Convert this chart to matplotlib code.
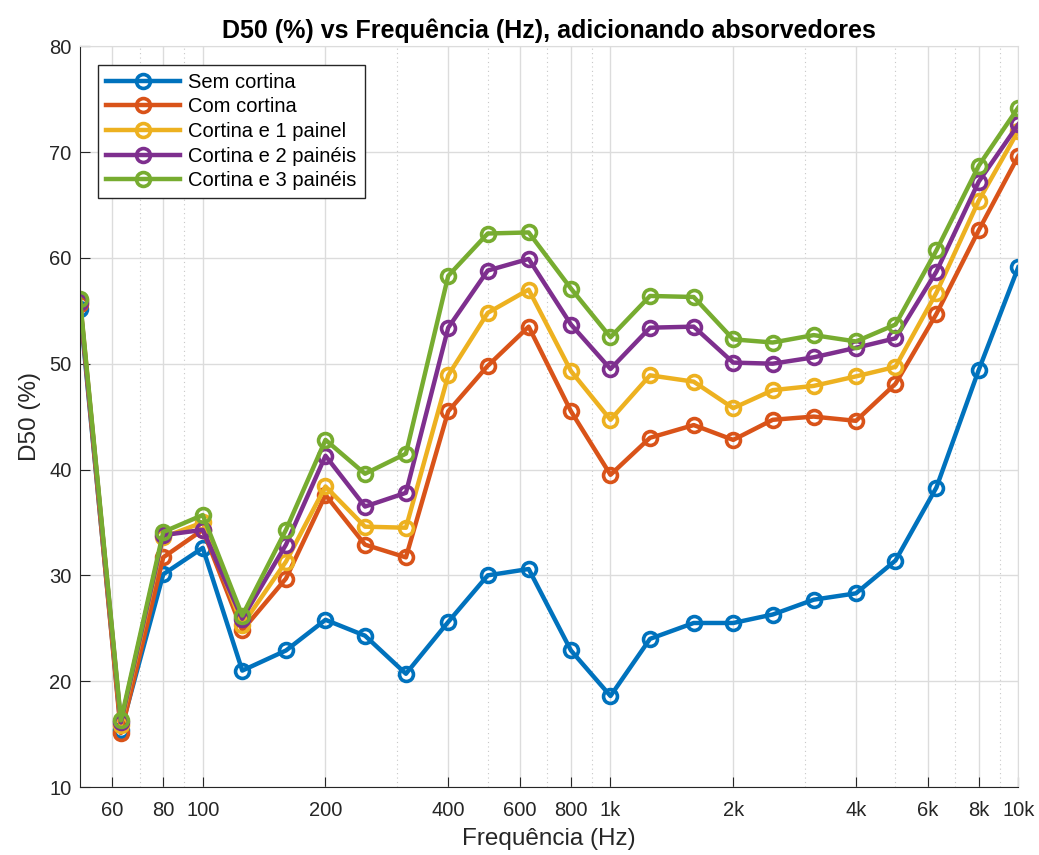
import matplotlib
matplotlib.use('Agg')
import matplotlib.pyplot as plt
from matplotlib.ticker import FixedLocator, FixedFormatter, NullFormatter

plt.rcParams['font.family'] = ['Liberation Sans', 'DejaVu Sans']

freq = [50, 63, 80, 100, 125, 160, 200, 250, 315, 400, 500, 630, 800,
        1000, 1250, 1600, 2000, 2500, 3150, 4000, 5000, 6300, 8000, 10000]

sem_cortina = [55.2, 15.4, 30.1, 32.6, 21.0, 22.9, 25.8, 24.3, 20.7, 25.6, 30.0, 30.6,
               22.9, 18.6, 24.0, 25.5, 25.5, 26.3, 27.7, 28.3, 31.4, 38.3, 49.4, 59.1]
com_cortina = [55.6, 15.1, 31.7, 34.3, 24.8, 29.7, 37.6, 32.9, 31.7, 45.5, 49.8, 53.5,
               45.5, 39.5, 43.0, 44.2, 42.8, 44.7, 45.0, 44.6, 48.1, 54.7, 62.6, 69.6]
cortina_1 = [56.0, 15.9, 33.6, 35.0, 25.3, 31.3, 38.4, 34.6, 34.5, 48.9, 54.8, 57.0,
             49.3, 44.7, 48.9, 48.3, 45.8, 47.5, 47.9, 48.8, 49.7, 56.7, 65.4, 72.0]
cortina_2 = [55.8, 16.1, 33.8, 34.3, 25.9, 32.9, 41.3, 36.5, 37.8, 53.4, 58.8, 59.9,
             53.7, 49.5, 53.4, 53.5, 50.1, 50.0, 50.6, 51.5, 52.4, 58.7, 67.2, 72.6]
cortina_3 = [56.1, 16.3, 34.1, 35.7, 26.2, 34.3, 42.8, 39.6, 41.5, 58.3, 62.3, 62.4,
             57.1, 52.5, 56.4, 56.3, 52.3, 52.0, 52.7, 52.1, 53.7, 60.7, 68.7, 74.2]

series = [sem_cortina, com_cortina, cortina_1, cortina_2, cortina_3]
nomes = ["Sem cortina", "Com cortina", "Cortina e 1 painel",
         "Cortina e 2 painéis", "Cortina e 3 painéis"]
cores = ['#0072BD', '#D95319', '#EDB120', '#7E2F8E', '#77AC30']

major_ticks = [60, 80, 100, 200, 400, 600, 800, 1000, 2000, 4000, 6000, 8000, 10000]
major_labels = ['60', '80', '100', '200', '400', '600', '800', '1k', '2k', '4k', '6k', '8k', '10k']
minor_ticks = [70, 90, 300, 500, 700, 900, 3000, 5000, 7000, 9000]

fig = plt.figure(figsize=(10.39, 8.55), dpi=100)
ax = fig.add_axes([0.077, 0.0795, 0.903, 0.8665])

for y, nome, cor in zip(series, nomes, cores):
    ax.plot(freq, y, '-o', color=cor, lw=3.2, ms=10, mfc='none', mew=2.6, label=nome)

ax.set_xscale('log')
ax.set_xlim(50, 10000)
ax.set_ylim(10, 80)
ax.xaxis.set_major_locator(FixedLocator(major_ticks))
ax.xaxis.set_major_formatter(FixedFormatter(major_labels))
ax.xaxis.set_minor_locator(FixedLocator(minor_ticks))
ax.xaxis.set_minor_formatter(NullFormatter())
ax.set_yticks(range(10, 81, 10))

ax.grid(True, which='major', color='#dcdcdc', lw=1.0)
ax.grid(True, which='minor', axis='x', color='#c8c8c8', lw=0.8, ls=(0, (1, 3)))
ax.set_axisbelow(True)

ax.tick_params(axis='both', which='both', direction='in', labelsize=14.5, colors='#262626')
ax.tick_params(axis='x', which='major', length=7.5, pad=10)
ax.tick_params(axis='x', which='minor', length=0)
ax.tick_params(axis='y', length=7.5, pad=6)
for s in ['left', 'bottom']:
    ax.spines[s].set_color('#262626')
for s in ['top', 'right']:
    ax.spines[s].set_color('#dcdcdc')

ax.set_title("D50 (%) vs Frequência (Hz), adicionando absorvedores",
             fontsize=18, fontweight='bold', pad=6)
ax.set_xlabel("Frequência (Hz)", fontsize=17.5, color='#262626', labelpad=6)
ax.set_ylabel("D50 (%)", fontsize=17.5, color='#262626', labelpad=6)

leg = ax.legend(loc='upper left', bbox_to_anchor=(0.019, 0.975), fontsize=14.5,
                handlelength=3.7, fancybox=False, framealpha=1, edgecolor='#262626',
                borderpad=0.4, labelspacing=0.28, handletextpad=0.4, borderaxespad=0)
leg.get_frame().set_linewidth(1.0)

plt.savefig('out.png', dpi=100)
